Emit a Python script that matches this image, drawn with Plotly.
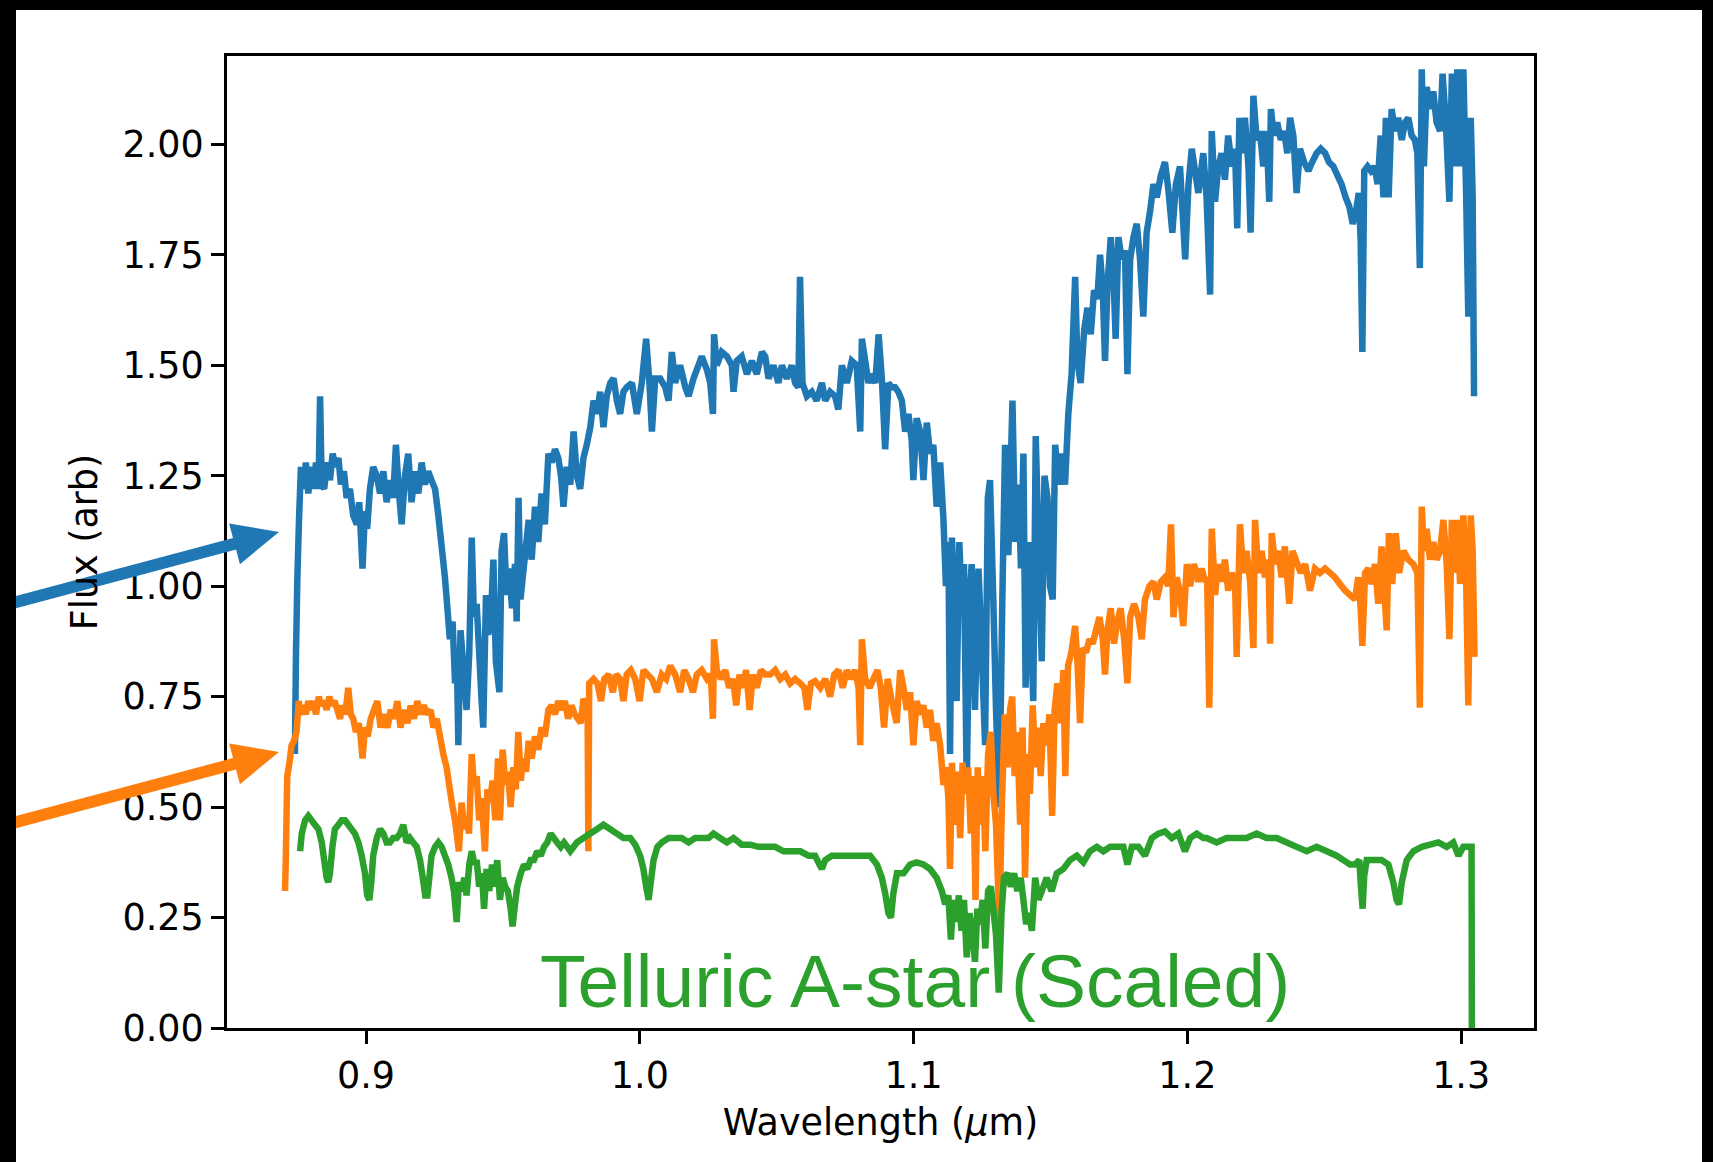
import plotly.graph_objects as go

# Spectra: (wavelength in micron, flux in arbitrary units)
target_spec = [
    (0.8740, 0.62), (0.8744, 0.85), (0.8749, 1.02), (0.8755, 1.15), (0.8762, 1.27), (0.8771, 1.22), (0.8780, 1.28), (0.8789, 1.21),
    (0.8798, 1.27), (0.8807, 1.22), (0.8817, 1.28), (0.8826, 1.22), (0.8832, 1.43), (0.8838, 1.23), (0.8847, 1.22), (0.8858, 1.28),
    (0.8868, 1.24), (0.8878, 1.30), (0.8888, 1.27), (0.8899, 1.29), (0.8908, 1.23), (0.8919, 1.26), (0.8929, 1.20), (0.8941, 1.22),
    (0.8953, 1.16), (0.8966, 1.14), (0.8975, 1.19), (0.8987, 1.04), (0.8996, 1.17), (0.9004, 1.13), (0.9014, 1.22), (0.9026, 1.27),
    (0.9039, 1.25), (0.9051, 1.21), (0.9063, 1.26), (0.9075, 1.19), (0.9087, 1.24), (0.9099, 1.20), (0.9109, 1.32), (0.9119, 1.22),
    (0.9130, 1.14), (0.9142, 1.25), (0.9154, 1.30), (0.9166, 1.19), (0.9179, 1.26), (0.9191, 1.21), (0.9203, 1.28), (0.9215, 1.23),
    (0.9227, 1.26), (0.9239, 1.24), (0.9252, 1.22), (0.9264, 1.16), (0.9276, 1.09), (0.9288, 1.02), (0.9297, 0.95), (0.9306, 0.88),
    (0.9316, 0.92), (0.9325, 0.78), (0.9331, 0.86), (0.9337, 0.64), (0.9345, 0.90), (0.9355, 0.82), (0.9367, 0.72), (0.9377, 0.85),
    (0.9386, 1.11), (0.9394, 0.93), (0.9404, 0.96), (0.9413, 0.85), (0.9422, 0.74), (0.9428, 0.68), (0.9438, 0.98), (0.9446, 0.89),
    (0.9456, 0.93), (0.9465, 1.06), (0.9474, 0.83), (0.9487, 0.76), (0.9495, 1.08), (0.9504, 1.12), (0.9513, 0.98), (0.9523, 1.04),
    (0.9533, 0.95), (0.9544, 1.05), (0.9550, 0.92), (0.9557, 1.20), (0.9564, 0.97), (0.9574, 1.03), (0.9584, 1.09), (0.9594, 1.15),
    (0.9605, 1.06), (0.9617, 1.18), (0.9629, 1.10), (0.9641, 1.21), (0.9653, 1.14), (0.9666, 1.30), (0.9678, 1.28), (0.9690, 1.31),
    (0.9702, 1.29), (0.9712, 1.25), (0.9721, 1.18), (0.9733, 1.27), (0.9746, 1.23), (0.9758, 1.35), (0.9770, 1.25), (0.9782, 1.22),
    (0.9794, 1.29), (0.9806, 1.32), (0.9819, 1.36), (0.9831, 1.42), (0.9843, 1.39), (0.9855, 1.44), (0.9867, 1.36), (0.9879, 1.43),
    (0.9892, 1.46), (0.9904, 1.47), (0.9916, 1.42), (0.9928, 1.39), (0.9940, 1.44), (0.9952, 1.45), (0.9971, 1.46), (0.9989, 1.39),
    (1.0007, 1.46), (1.0023, 1.56), (1.0035, 1.46), (1.0044, 1.35), (1.0056, 1.47), (1.0074, 1.47), (1.0093, 1.45), (1.0105, 1.42),
    (1.0117, 1.53), (1.0129, 1.46), (1.0147, 1.50), (1.0166, 1.45), (1.0178, 1.43), (1.0196, 1.47), (1.0214, 1.50), (1.0226, 1.52),
    (1.0245, 1.49), (1.0257, 1.46), (1.0267, 1.39), (1.0271, 1.57), (1.0281, 1.50), (1.0299, 1.53), (1.0318, 1.52), (1.0336, 1.50),
    (1.0342, 1.44), (1.0354, 1.51), (1.0372, 1.52), (1.0391, 1.48), (1.0409, 1.51), (1.0427, 1.48), (1.0446, 1.53), (1.0458, 1.52),
    (1.0470, 1.47), (1.0488, 1.50), (1.0506, 1.46), (1.0519, 1.50), (1.0537, 1.47), (1.0555, 1.50), (1.0567, 1.46), (1.0579, 1.45),
    (1.0585, 1.70), (1.0594, 1.46), (1.0610, 1.43), (1.0628, 1.44), (1.0646, 1.42), (1.0665, 1.46), (1.0677, 1.42), (1.0695, 1.44),
    (1.0713, 1.43), (1.0725, 1.40), (1.0738, 1.50), (1.0756, 1.46), (1.0774, 1.51), (1.0792, 1.50), (1.0805, 1.35), (1.0811, 1.56),
    (1.0823, 1.51), (1.0835, 1.46), (1.0847, 1.48), (1.0860, 1.46), (1.0872, 1.57), (1.0884, 1.47), (1.0896, 1.31), (1.0908, 1.46),
    (1.0920, 1.45), (1.0932, 1.45), (1.0944, 1.44), (1.0957, 1.42), (1.0969, 1.35), (1.0981, 1.39), (1.0993, 1.33), (1.0999, 1.24),
    (1.1011, 1.38), (1.1024, 1.35), (1.1036, 1.24), (1.1048, 1.37), (1.1060, 1.30), (1.1072, 1.32), (1.1084, 1.18), (1.1097, 1.28),
    (1.1109, 1.15), (1.1118, 1.00), (1.1127, 1.10), (1.1133, 0.62), (1.1140, 1.11), (1.1148, 0.97), (1.1157, 0.74), (1.1167, 1.10),
    (1.1176, 0.95), (1.1184, 1.05), (1.1194, 0.55), (1.1204, 0.97), (1.1212, 1.05), (1.1224, 0.72), (1.1237, 1.04), (1.1249, 0.85),
    (1.1261, 0.64), (1.1271, 1.20), (1.1279, 1.24), (1.1291, 0.97), (1.1301, 0.72), (1.1313, 0.50), (1.1324, 0.97), (1.1334, 1.32),
    (1.1346, 1.07), (1.1361, 1.42), (1.1371, 1.10), (1.1383, 1.23), (1.1392, 1.04), (1.1401, 1.30), (1.1409, 0.77), (1.1419, 1.10),
    (1.1428, 0.91), (1.1437, 0.74), (1.1446, 1.34), (1.1456, 1.10), (1.1468, 0.83), (1.1478, 1.25), (1.1489, 1.20), (1.1498, 1.00),
    (1.1508, 0.97), (1.1517, 1.32), (1.1529, 1.23), (1.1541, 1.30), (1.1553, 1.23), (1.1565, 1.39), (1.1577, 1.48), (1.1590, 1.70),
    (1.1598, 1.51), (1.1610, 1.46), (1.1623, 1.58), (1.1635, 1.63), (1.1647, 1.57), (1.1659, 1.67), (1.1671, 1.65), (1.1681, 1.75),
    (1.1691, 1.67), (1.1699, 1.51), (1.1708, 1.68), (1.1720, 1.79), (1.1730, 1.70), (1.1738, 1.56), (1.1748, 1.79), (1.1760, 1.74),
    (1.1772, 1.76), (1.1781, 1.48), (1.1791, 1.74), (1.1803, 1.79), (1.1815, 1.82), (1.1827, 1.74), (1.1839, 1.61), (1.1851, 1.80),
    (1.1864, 1.85), (1.1876, 1.91), (1.1888, 1.88), (1.1903, 1.93), (1.1918, 1.96), (1.1930, 1.90), (1.1945, 1.80), (1.1958, 1.91),
    (1.1973, 1.95), (1.1992, 1.74), (1.2004, 1.91), (1.2016, 1.99), (1.2028, 1.94), (1.2040, 1.89), (1.2058, 1.98), (1.2070, 1.88),
    (1.2083, 1.66), (1.2089, 2.03), (1.2101, 1.87), (1.2113, 1.95), (1.2125, 1.98), (1.2137, 1.92), (1.2149, 2.02), (1.2162, 1.95),
    (1.2174, 1.99), (1.2182, 1.81), (1.2190, 2.06), (1.2198, 1.98), (1.2210, 2.06), (1.2223, 1.95), (1.2231, 1.80), (1.2241, 2.11),
    (1.2253, 2.01), (1.2265, 2.03), (1.2277, 1.95), (1.2289, 2.03), (1.2299, 1.87), (1.2305, 2.08), (1.2316, 2.02), (1.2328, 2.05),
    (1.2341, 2.01), (1.2353, 2.03), (1.2365, 1.98), (1.2375, 2.06), (1.2387, 2.02), (1.2399, 1.89), (1.2411, 1.99), (1.2426, 1.96),
    (1.2442, 1.94), (1.2456, 1.96), (1.2472, 1.98), (1.2487, 1.99), (1.2503, 1.98), (1.2517, 1.96), (1.2533, 1.95), (1.2548, 1.93),
    (1.2563, 1.91), (1.2578, 1.88), (1.2591, 1.86), (1.2604, 1.82), (1.2616, 1.85), (1.2626, 1.89), (1.2633, 1.78), (1.2639, 1.53),
    (1.2646, 1.94), (1.2658, 1.95), (1.2670, 1.94), (1.2683, 1.95), (1.2695, 1.91), (1.2706, 2.02), (1.2716, 1.88), (1.2725, 2.06),
    (1.2735, 1.88), (1.2746, 2.08), (1.2758, 2.03), (1.2770, 2.06), (1.2783, 2.01), (1.2795, 2.05), (1.2807, 2.06), (1.2819, 2.02),
    (1.2831, 2.01), (1.2840, 1.98), (1.2849, 1.72), (1.2856, 2.17), (1.2864, 1.95), (1.2874, 2.13), (1.2886, 2.08), (1.2898, 2.12),
    (1.2910, 2.05), (1.2923, 2.03), (1.2932, 2.16), (1.2944, 2.05), (1.2957, 1.87), (1.2966, 2.16), (1.2976, 1.95), (1.2986, 2.17),
    (1.2996, 1.95), (1.3008, 2.17), (1.3018, 1.89), (1.3026, 1.61), (1.3035, 2.06), (1.3042, 1.88), (1.3047, 1.43),
]

corrected_spec = [
    (0.8704, 0.31), (0.8707, 0.39), (0.8712, 0.57), (0.8720, 0.60), (0.8728, 0.64), (0.8737, 0.65), (0.8746, 0.67), (0.8754, 0.74),
    (0.8761, 0.71), (0.8771, 0.73), (0.8780, 0.71), (0.8789, 0.74), (0.8798, 0.72), (0.8807, 0.74), (0.8817, 0.71), (0.8827, 0.75),
    (0.8836, 0.73), (0.8846, 0.74), (0.8856, 0.72), (0.8866, 0.75), (0.8875, 0.73), (0.8885, 0.74), (0.8895, 0.72), (0.8905, 0.70),
    (0.8914, 0.73), (0.8924, 0.71), (0.8935, 0.77), (0.8944, 0.71), (0.8953, 0.70), (0.8963, 0.67), (0.8973, 0.69), (0.8980, 0.66),
    (0.8987, 0.61), (0.8996, 0.68), (0.9006, 0.66), (0.9017, 0.70), (0.9029, 0.72), (0.9041, 0.74), (0.9053, 0.68), (0.9065, 0.71),
    (0.9078, 0.68), (0.9090, 0.72), (0.9102, 0.70), (0.9114, 0.74), (0.9126, 0.68), (0.9138, 0.72), (0.9151, 0.69), (0.9163, 0.73),
    (0.9175, 0.70), (0.9187, 0.74), (0.9199, 0.71), (0.9211, 0.73), (0.9224, 0.71), (0.9236, 0.72), (0.9246, 0.68), (0.9258, 0.70),
    (0.9270, 0.66), (0.9282, 0.62), (0.9294, 0.59), (0.9306, 0.54), (0.9316, 0.50), (0.9325, 0.47), (0.9333, 0.43), (0.9339, 0.40),
    (0.9349, 0.51), (0.9358, 0.45), (0.9367, 0.48), (0.9376, 0.44), (0.9386, 0.62), (0.9394, 0.55), (0.9404, 0.57), (0.9413, 0.47),
    (0.9422, 0.52), (0.9434, 0.40), (0.9443, 0.54), (0.9452, 0.51), (0.9462, 0.56), (0.9472, 0.47), (0.9482, 0.61), (0.9489, 0.47),
    (0.9499, 0.63), (0.9508, 0.55), (0.9518, 0.58), (0.9528, 0.50), (0.9538, 0.59), (0.9547, 0.54), (0.9556, 0.67), (0.9565, 0.56),
    (0.9574, 0.61), (0.9584, 0.58), (0.9594, 0.65), (0.9605, 0.61), (0.9617, 0.66), (0.9629, 0.63), (0.9641, 0.68), (0.9653, 0.66),
    (0.9666, 0.72), (0.9678, 0.73), (0.9690, 0.71), (0.9702, 0.74), (0.9714, 0.72), (0.9726, 0.74), (0.9738, 0.70), (0.9750, 0.73),
    (0.9762, 0.71), (0.9774, 0.70), (0.9784, 0.69), (0.9794, 0.745), (0.9806, 0.73), (0.9809, 0.73), (0.9812, 0.40), (0.9815, 0.78),
    (0.9831, 0.79), (0.9845, 0.78), (0.9858, 0.74), (0.9870, 0.79), (0.9886, 0.80), (0.9901, 0.76), (0.9913, 0.80), (0.9928, 0.79),
    (0.9940, 0.74), (0.9952, 0.80), (0.9967, 0.81), (0.9983, 0.79), (0.9999, 0.74), (1.0013, 0.81), (1.0028, 0.80), (1.0044, 0.79),
    (1.0062, 0.76), (1.0080, 0.80), (1.0096, 0.79), (1.0111, 0.82), (1.0129, 0.80), (1.0147, 0.76), (1.0162, 0.81), (1.0178, 0.79),
    (1.0194, 0.76), (1.0208, 0.80), (1.0226, 0.81), (1.0245, 0.79), (1.0259, 0.80), (1.0267, 0.70), (1.0271, 0.88), (1.0281, 0.81),
    (1.0296, 0.79), (1.0312, 0.81), (1.0326, 0.77), (1.0340, 0.79), (1.0352, 0.73), (1.0364, 0.80), (1.0376, 0.77), (1.0388, 0.81),
    (1.0401, 0.72), (1.0413, 0.80), (1.0427, 0.77), (1.0442, 0.81), (1.0458, 0.80), (1.0476, 0.80), (1.0494, 0.81), (1.0513, 0.79),
    (1.0531, 0.80), (1.0549, 0.78), (1.0567, 0.79), (1.0586, 0.78), (1.0601, 0.77), (1.0612, 0.72), (1.0625, 0.78), (1.0640, 0.785),
    (1.0659, 0.77), (1.0677, 0.79), (1.0695, 0.75), (1.0710, 0.80), (1.0726, 0.81), (1.0741, 0.77), (1.0756, 0.81), (1.0771, 0.79),
    (1.0786, 0.81), (1.0799, 0.77), (1.0805, 0.64), (1.0811, 0.88), (1.0823, 0.79), (1.0839, 0.77), (1.0853, 0.79), (1.0868, 0.81),
    (1.0880, 0.77), (1.0892, 0.68), (1.0905, 0.79), (1.0920, 0.74), (1.0938, 0.69), (1.0951, 0.81), (1.0963, 0.77), (1.0975, 0.72),
    (1.0987, 0.76), (1.0999, 0.64), (1.1011, 0.74), (1.1024, 0.71), (1.1036, 0.73), (1.1048, 0.68), (1.1060, 0.72), (1.1072, 0.65),
    (1.1084, 0.69), (1.1097, 0.64), (1.1109, 0.55), (1.1118, 0.59), (1.1127, 0.52), (1.1133, 0.36), (1.1140, 0.60), (1.1150, 0.46),
    (1.1160, 0.58), (1.1170, 0.43), (1.1179, 0.60), (1.1189, 0.53), (1.1199, 0.59), (1.1209, 0.44), (1.1218, 0.57), (1.1226, 0.29),
    (1.1234, 0.59), (1.1243, 0.46), (1.1252, 0.57), (1.1262, 0.40), (1.1272, 0.62), (1.1282, 0.67), (1.1291, 0.53), (1.1301, 0.46),
    (1.1313, 0.235), (1.1323, 0.52), (1.1333, 0.71), (1.1343, 0.59), (1.1352, 0.72), (1.1360, 0.75), (1.1369, 0.57), (1.1379, 0.67),
    (1.1389, 0.46), (1.1398, 0.68), (1.1407, 0.34), (1.1417, 0.62), (1.1425, 0.53), (1.1435, 0.73), (1.1445, 0.59), (1.1455, 0.68),
    (1.1464, 0.57), (1.1474, 0.69), (1.1486, 0.64), (1.1496, 0.71), (1.1506, 0.48), (1.1515, 0.72), (1.1525, 0.78), (1.1537, 0.69),
    (1.1547, 0.81), (1.1554, 0.57), (1.1564, 0.82), (1.1576, 0.85), (1.1590, 0.91), (1.1599, 0.82), (1.1608, 0.69), (1.1618, 0.86),
    (1.1630, 0.85), (1.1642, 0.88), (1.1654, 0.87), (1.1666, 0.90), (1.1679, 0.93), (1.1691, 0.88), (1.1699, 0.80), (1.1708, 0.90),
    (1.1720, 0.95), (1.1732, 0.87), (1.1744, 0.92), (1.1756, 0.95), (1.1769, 0.88), (1.1781, 0.78), (1.1791, 0.93), (1.1805, 0.96),
    (1.1821, 0.93), (1.1833, 0.88), (1.1845, 0.97), (1.1861, 1.00), (1.1876, 1.01), (1.1888, 0.97), (1.1903, 1.01), (1.1918, 1.02),
    (1.1930, 1.00), (1.1940, 1.14), (1.1949, 0.93), (1.1961, 1.02), (1.1973, 0.985), (1.1985, 0.91), (1.1998, 1.05), (1.2010, 1.00),
    (1.2024, 1.05), (1.2040, 1.01), (1.2052, 1.04), (1.2065, 1.01), (1.2072, 1.02), (1.2080, 0.725), (1.2089, 1.13), (1.2101, 0.98),
    (1.2113, 1.05), (1.2125, 1.01), (1.2137, 1.06), (1.2149, 0.99), (1.2162, 1.03), (1.2174, 1.01), (1.2180, 0.84), (1.2192, 1.14),
    (1.2204, 1.03), (1.2216, 1.08), (1.2229, 1.01), (1.2241, 0.86), (1.2247, 1.15), (1.2259, 1.03), (1.2271, 1.08), (1.2283, 1.02),
    (1.2296, 1.06), (1.2302, 0.87), (1.2308, 1.12), (1.2320, 1.05), (1.2332, 1.08), (1.2344, 1.02), (1.2356, 1.09), (1.2372, 0.96),
    (1.2384, 1.08), (1.2399, 1.055), (1.2414, 1.03), (1.2430, 1.05), (1.2448, 0.99), (1.2466, 1.04), (1.2484, 1.03), (1.2503, 1.04),
    (1.2521, 1.03), (1.2539, 1.02), (1.2557, 1.005), (1.2576, 0.99), (1.2594, 0.98), (1.2612, 0.97), (1.2624, 1.02), (1.2633, 0.95),
    (1.2639, 0.865), (1.2649, 1.03), (1.2661, 1.04), (1.2673, 1.005), (1.2685, 1.05), (1.2697, 0.96), (1.2709, 1.09), (1.2719, 0.99),
    (1.2728, 0.90), (1.2736, 1.12), (1.2748, 1.005), (1.2761, 1.12), (1.2773, 1.03), (1.2789, 1.08), (1.2807, 1.06), (1.2825, 1.05),
    (1.2840, 1.03), (1.2849, 0.725), (1.2856, 1.18), (1.2864, 1.08), (1.2874, 1.13), (1.2886, 1.06), (1.2898, 1.10), (1.2910, 1.06),
    (1.2923, 1.08), (1.2935, 1.15), (1.2947, 1.05), (1.2957, 0.88), (1.2966, 1.15), (1.2977, 1.03), (1.2986, 1.15), (1.2996, 1.005),
    (1.3008, 1.16), (1.3018, 1.02), (1.3026, 0.73), (1.3035, 1.16), (1.3042, 1.08), (1.3049, 0.84),
]

telluric_spec = [
    (0.8759, 0.40), (0.8765, 0.44), (0.8777, 0.47), (0.8789, 0.48), (0.8801, 0.47), (0.8813, 0.46), (0.8826, 0.45), (0.8838, 0.42),
    (0.8847, 0.38), (0.8856, 0.34), (0.8862, 0.33), (0.8868, 0.35), (0.8877, 0.41), (0.8886, 0.45), (0.8899, 0.46), (0.8911, 0.47),
    (0.8923, 0.47), (0.8935, 0.46), (0.8947, 0.45), (0.8959, 0.44), (0.8972, 0.42), (0.8984, 0.39), (0.8996, 0.35), (0.9004, 0.30),
    (0.9012, 0.29), (0.9019, 0.33), (0.9026, 0.39), (0.9039, 0.43), (0.9051, 0.45), (0.9063, 0.44), (0.9075, 0.42), (0.9087, 0.42),
    (0.9099, 0.43), (0.9112, 0.43), (0.9124, 0.44), (0.9136, 0.46), (0.9148, 0.42), (0.9160, 0.43), (0.9172, 0.42), (0.9185, 0.41),
    (0.9197, 0.38), (0.9207, 0.34), (0.9216, 0.30), (0.9224, 0.30), (0.9231, 0.34), (0.9239, 0.39), (0.9252, 0.41), (0.9264, 0.42),
    (0.9276, 0.41), (0.9288, 0.39), (0.9300, 0.37), (0.9312, 0.34), (0.9321, 0.31), (0.9331, 0.24), (0.9339, 0.33), (0.9349, 0.31),
    (0.9359, 0.34), (0.9367, 0.30), (0.9377, 0.37), (0.9386, 0.40), (0.9396, 0.37), (0.9404, 0.38), (0.9413, 0.32), (0.9423, 0.35),
    (0.9431, 0.27), (0.9440, 0.36), (0.9450, 0.31), (0.9460, 0.37), (0.9470, 0.32), (0.9479, 0.38), (0.9489, 0.29), (0.9499, 0.34),
    (0.9508, 0.32), (0.9518, 0.31), (0.9528, 0.27), (0.9535, 0.23), (0.9544, 0.28), (0.9552, 0.32), (0.9565, 0.35), (0.9577, 0.37),
    (0.9589, 0.36), (0.9601, 0.38), (0.9613, 0.38), (0.9625, 0.40), (0.9638, 0.39), (0.9650, 0.41), (0.9662, 0.42), (0.9674, 0.44),
    (0.9686, 0.43), (0.9698, 0.42), (0.9711, 0.41), (0.9723, 0.42), (0.9735, 0.41), (0.9746, 0.40), (0.9770, 0.42), (0.9794, 0.43),
    (0.9819, 0.44), (0.9843, 0.45), (0.9867, 0.46), (0.9892, 0.45), (0.9916, 0.44), (0.9940, 0.43), (0.9965, 0.43), (0.9983, 0.415),
    (1.0001, 0.39), (1.0013, 0.36), (1.0023, 0.32), (1.0032, 0.29), (1.0040, 0.33), (1.0050, 0.38), (1.0064, 0.41), (1.0080, 0.42),
    (1.0105, 0.43), (1.0129, 0.43), (1.0153, 0.43), (1.0178, 0.42), (1.0202, 0.43), (1.0226, 0.43), (1.0251, 0.43), (1.0269, 0.44),
    (1.0293, 0.43), (1.0318, 0.42), (1.0342, 0.43), (1.0372, 0.415), (1.0403, 0.415), (1.0433, 0.41), (1.0464, 0.41), (1.0494, 0.41),
    (1.0525, 0.40), (1.0555, 0.40), (1.0586, 0.40), (1.0616, 0.39), (1.0640, 0.39), (1.0656, 0.37), (1.0665, 0.36), (1.0677, 0.38),
    (1.0701, 0.39), (1.0732, 0.39), (1.0762, 0.39), (1.0792, 0.39), (1.0817, 0.39), (1.0841, 0.39), (1.0866, 0.37), (1.0884, 0.34),
    (1.0896, 0.305), (1.0908, 0.26), (1.0917, 0.25), (1.0926, 0.305), (1.0939, 0.35), (1.0963, 0.35), (1.0987, 0.37), (1.1011, 0.375),
    (1.1036, 0.37), (1.1060, 0.36), (1.1084, 0.34), (1.1103, 0.31), (1.1115, 0.28), (1.1127, 0.30), (1.1136, 0.20), (1.1145, 0.29),
    (1.1155, 0.24), (1.1165, 0.30), (1.1175, 0.22), (1.1184, 0.29), (1.1194, 0.16), (1.1204, 0.26), (1.1214, 0.22), (1.1224, 0.15),
    (1.1233, 0.27), (1.1243, 0.235), (1.1252, 0.29), (1.1262, 0.18), (1.1272, 0.31), (1.1282, 0.32), (1.1291, 0.27), (1.1301, 0.21),
    (1.1311, 0.08), (1.1321, 0.26), (1.1330, 0.34), (1.1343, 0.35), (1.1355, 0.32), (1.1367, 0.35), (1.1379, 0.31), (1.1391, 0.34),
    (1.1401, 0.29), (1.1411, 0.235), (1.1421, 0.26), (1.1432, 0.22), (1.1444, 0.34), (1.1456, 0.29), (1.1468, 0.31), (1.1486, 0.34),
    (1.1504, 0.31), (1.1523, 0.35), (1.1547, 0.36), (1.1571, 0.38), (1.1596, 0.39), (1.1620, 0.375), (1.1644, 0.40), (1.1669, 0.41),
    (1.1693, 0.40), (1.1718, 0.41), (1.1742, 0.41), (1.1766, 0.41), (1.1781, 0.37), (1.1797, 0.41), (1.1821, 0.41), (1.1845, 0.39),
    (1.1870, 0.43), (1.1894, 0.44), (1.1918, 0.445), (1.1943, 0.43), (1.1967, 0.44), (1.1991, 0.40), (1.2010, 0.43), (1.2034, 0.44),
    (1.2058, 0.43), (1.2070, 0.43), (1.2107, 0.42), (1.2143, 0.43), (1.2180, 0.43), (1.2216, 0.43), (1.2253, 0.44), (1.2289, 0.43),
    (1.2326, 0.43), (1.2363, 0.42), (1.2399, 0.41), (1.2436, 0.40), (1.2472, 0.41), (1.2509, 0.40), (1.2545, 0.39), (1.2570, 0.38),
    (1.2594, 0.37), (1.2612, 0.37), (1.2628, 0.38), (1.2634, 0.32), (1.2640, 0.27), (1.2646, 0.345), (1.2655, 0.38), (1.2679, 0.38),
    (1.2709, 0.38), (1.2734, 0.37), (1.2752, 0.33), (1.2764, 0.29), (1.2773, 0.28), (1.2783, 0.33), (1.2801, 0.38), (1.2825, 0.40),
    (1.2856, 0.41), (1.2886, 0.415), (1.2917, 0.42), (1.2947, 0.41), (1.2971, 0.42), (1.2990, 0.39), (1.3008, 0.41), (1.3026, 0.41),
    (1.3038, 0.41), (1.3039, 0.0),
]

x_ticks = [0.9, 1.0, 1.1, 1.2, 1.3]
y_ticks = [0.0, 0.25, 0.5, 0.75, 1.0, 1.25, 1.5, 1.75, 2.0]

series = [
    (target_spec, "#1f77b4"),
    (corrected_spec, "#ff7f0e"),
    (telluric_spec, "#2ca02c"),
]

# Figure geometry (pixels)
W, H = 1713, 1162
ML, MR, MT, MB = 227, 179, 56, 134
PW, PH = W - ML - MR, H - MT - MB


def px(x):
    return (x - ML) / PW


def py(y):
    return (H - MB - y) / PH


fig = go.Figure()
for spec, color in series:
    wl, flux = zip(*spec)
    fig.add_trace(go.Scatter(
        x=list(wl), y=list(flux), mode="lines",
        line=dict(color=color, width=6.5, simplify=False),
        showlegend=False, hoverinfo="skip",
    ))

tick_font = dict(family="DejaVu Sans", size=36.5, color="black")
axis_common = dict(
    showgrid=False, zeroline=False, showline=True, linecolor="black", linewidth=2.8,
    mirror=True, ticks="outside", ticklen=13, tickwidth=2.8, tickcolor="black",
    tickfont=tick_font,
)

fig.update_xaxes(
    range=[0.8492, 1.3266], tickvals=x_ticks, tickformat=".1f",
    title=dict(text="Wavelength (<i>μ</i>m)", font=tick_font, standoff=14),
    **axis_common,
)
fig.update_yaxes(
    range=[0, 2.2], tickvals=y_ticks, tickformat=".2f",
    title=dict(text="Flux (arb)", font=tick_font, standoff=14),
    **axis_common,
)

shapes = []


def arrow(tip, tail, color):
    (tx, ty), (sx, sy) = tip, tail
    dx, dy = tx - sx, ty - sy
    n = (dx * dx + dy * dy) ** 0.5
    ux, uy = dx / n, dy / n
    head_len, half_w = 46, 21
    bx, by = tx - head_len * ux, ty - head_len * uy
    nx, ny = -uy, ux
    shapes.append(dict(
        type="line", xref="paper", yref="paper",
        x0=px(sx), y0=py(sy), x1=px(bx + 4 * ux), y1=py(by + 4 * uy),
        line=dict(color=color, width=12), layer="above",
    ))
    pts = [(tx, ty), (bx + half_w * nx, by + half_w * ny), (bx - half_w * nx, by - half_w * ny)]
    path = "M " + " L ".join(f"{px(a):.5f},{py(b):.5f}" for a, b in pts) + " Z"
    shapes.append(dict(
        type="path", xref="paper", yref="paper", path=path,
        fillcolor=color, line=dict(color=color, width=0), layer="above",
    ))


arrow((279, 532), (-10, 609), "#1f77b4")
arrow((279, 752), (-10, 829), "#ff7f0e")

# dark frame around the slide area
for x0, y0, x1, y1 in [(0, 0, W, 10), (0, 0, 16, H), (1702, 0, W, H)]:
    shapes.append(dict(
        type="rect", xref="paper", yref="paper",
        x0=px(x0), x1=px(x1), y0=py(y1), y1=py(y0),
        fillcolor="black", line=dict(width=0), layer="above",
    ))

fig.update_layout(
    width=W, height=H,
    margin=dict(l=ML, r=MR, t=MT, b=MB, autoexpand=False),
    paper_bgcolor="white", plot_bgcolor="white",
    shapes=shapes,
    annotations=[dict(
        text="Telluric A-star (Scaled)", xref="paper", yref="paper",
        x=px(538), y=py(981), xanchor="left", yanchor="middle", showarrow=False,
        font=dict(family="Liberation Sans, Arial, sans-serif", size=75, color="#2ca02c"),
    )],
)

fig.write_html("out.html")
